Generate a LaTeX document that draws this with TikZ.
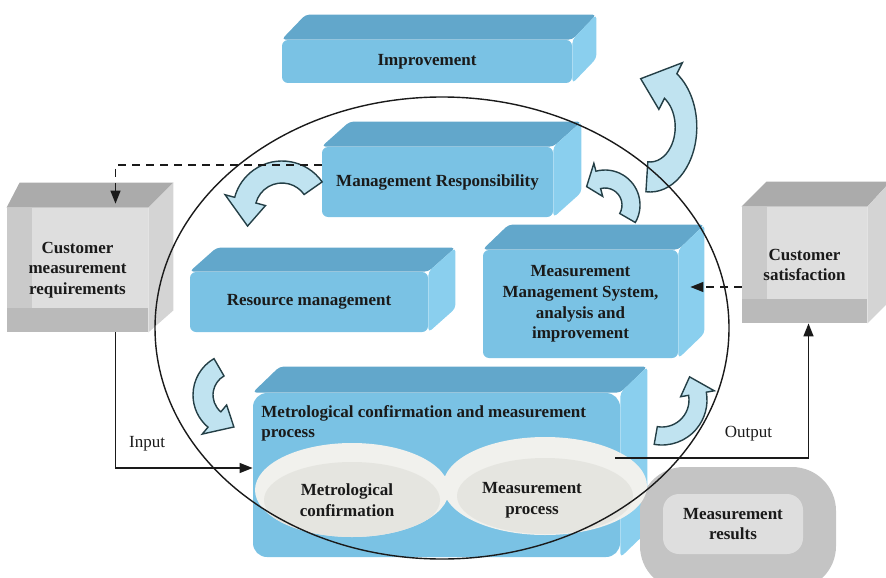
\documentclass[tikz,border=0pt]{standalone}
\usepackage{fontspec}
\setmainfont{Liberation Serif}
\usetikzlibrary{arrows.meta,calc,positioning,backgrounds,shapes.geometric}
\definecolor{ink}{HTML}{1A1A1A}
\definecolor{rimline}{HTML}{243F46}
\definecolor{blufront}{HTML}{7AC2E4}
\definecolor{blutop}{HTML}{62A7CB}
\definecolor{bluside}{HTML}{8ACFEE}
\definecolor{loopfill}{HTML}{C0E3F0}
\definecolor{grytop}{HTML}{ABABAB}
\definecolor{gryframe}{HTML}{CACACA}
\definecolor{gryinner}{HTML}{DEDEDE}
\definecolor{grybottom}{HTML}{BABABA}
\definecolor{gryside}{HTML}{D4D4D4}
\definecolor{lensrim}{HTML}{F1F1ED}
\definecolor{lenscore}{HTML}{E5E5E0}
\newcommand{\boxfont}{\fontsize{8.5}{10.3}\selectfont\bfseries}
% extruded faces behind a blue card
\newcommand{\bluedepth}[3]{%
  \begin{scope}[on background layer]
    \fill[blutop,rounded corners=2pt] (#1.north west) -- ++(#2,#3) -- ($(#1.north east)+(#2,#3)$) -- (#1.north east) -- cycle;
    \fill[bluside,rounded corners=2pt] (#1.north east) -- ++(#2,#3) -- ($(#1.south east)+(#2,#3)$) -- (#1.south east) -- cycle;
  \end{scope}}
% extruded faces behind a grey card
\newcommand{\greydepth}[5]{%
  \begin{scope}[on background layer]
    \fill[grytop] (#1.north west) -- ++(#2,#4) -- ($(#1.north east)+(#3,#4)$) -- (#1.north east) -- cycle;
    \fill[gryside] (#1.north east) -- ++(#3,#4) -- ($(#1.south east)+(#3,#5)$) -- (#1.south east) -- cycle;
  \end{scope}}
% curved block arrow: centre, radius, half width, tail angle, head angle, tip angle, xscale
\newcommand{\loopcarrow}[7]{%
  \pgfmathsetmacro{\lcro}{#2+#3}\pgfmathsetmacro{\lcri}{#2-#3}%
  \pgfmathsetmacro{\lchro}{#2+1.9*#3}\pgfmathsetmacro{\lchri}{#2-1.9*#3}%
  \begin{scope}[shift={(#1)},xscale=#7]
    \draw[looparr] (#4:\lcro) arc[start angle=#4,end angle=#5,radius=\lcro] -- (#5:\lchro) -- (#6:#2)
      -- (#5:\lchri) -- (#5:\lcri) arc[start angle=#5,end angle=#4,radius=\lcri] -- cycle;
  \end{scope}}
\tikzset{
  flowarr/.style={-{Triangle[length=6.5pt,width=5pt]},line width=0.7pt,color=ink},
  dasharr/.style={flowarr,dash pattern=on 4pt off 3pt},
  bluecard/.style={fill=blufront,rounded corners=3pt,align=center,inner sep=0pt,font=\boxfont,text=ink},
  greycard/.style={fill=gryframe,align=center,inner sep=0pt,font=\boxfont,text=ink,
    path picture={
      \fill[grybottom] (path picture bounding box.south west) rectangle ([yshift=12pt]path picture bounding box.south east);
      \fill[gryinner] ([xshift=12.5pt,yshift=12pt]path picture bounding box.south west) rectangle (path picture bounding box.north east);}},
  lens/.style={ellipse,fill=lensrim,inner sep=0pt,
    path picture={\fill[lenscore] ([yshift=-5pt]path picture bounding box.center) ellipse [x radius=44pt,y radius=19pt];}},
  lenstext/.style={align=center,inner sep=0pt,font=\boxfont,text=ink},
  looparr/.style={fill=loopfill,draw=rimline,line width=0.7pt},
  ringline/.style={draw=ink,line width=0.7pt},
  flowlabel/.style={font=\fontsize{8.5}{10}\selectfont,text=ink,inner sep=0pt}
}
\begin{document}
\begin{tikzpicture}[x=0.5pt,y=-0.5pt,>=Latex]
  \useasboundingbox (0,0) rectangle (886,577);
  % blue cards
  \node[bluecard,minimum width=145pt,minimum height=21.5pt] (impr) at (427,61.5) {Improvement};
  \bluedepth{impr}{24}{-25}
  \node[bluecard,minimum width=115.5pt,minimum height=35pt] (mgmt) at (437.5,182) {Management Responsibility};
  \bluedepth{mgmt}{28}{-25}
  \node[bluecard,minimum width=119pt,minimum height=30pt] (resmgmt) at (309,302) {Resource management};
  \bluedepth{resmgmt}{27}{-24}
  \node[bluecard,minimum width=97.5pt,minimum height=54pt] (mms) at (580.5,304)
    {Measurement\\Management System,\\analysis and\\improvement};
  \bluedepth{mms}{26}{-25}
  \node[bluecard,rounded corners=7pt,minimum width=183.5pt,minimum height=82pt] (metro) at (436.5,475) {};
  \bluedepth{metro}{27}{-26}
  \node[lenstext,anchor=north west,align=left] (metrotitle) at (261,405)
    {Metrological confirmation and measurement\\process};
  % the two lenses
  \node[lens,minimum width=97pt,minimum height=47pt] (mconf) at (352,490) {};
  \node[lenstext] (mconftext) at (347,500) {Metrological\\confirmation};
  \node[lens,minimum width=102pt,minimum height=49pt] (mproc) at (545,486) {};
  \node[lenstext] (mproctext) at (532,500) {Measurement\\process};
  % grey cards
  \node[greycard,minimum width=70.5pt,minimum height=62pt] (cmr) at (77.5,270)
    {Customer\\measurement\\requirements};
  \greydepth{cmr}{13}{25}{-25}{-22}
  \node[greycard,minimum width=62.5pt,minimum height=58pt] (csat) at (804.5,265) {Customer\\satisfaction};
  \greydepth{csat}{25}{23}{-25}{-23}
  \node[fill=gryinner,rounded corners=8pt,align=center,inner sep=0pt,font=\boxfont,text=ink,
    minimum width=70pt,minimum height=30pt] (mres) at (733,524) {Measurement\\results};
  \begin{scope}[on background layer]
    \fill[grybottom!85!white,rounded corners=22pt] (640,467) rectangle (836,590);
  \end{scope}
  % loop arrows
  \loopcarrow{650,127}{50}{15}{95}{-55}{-105}{0.72}
  \loopcarrow{282,210}{38}{11}{-35}{-165}{-205}{1}
  \loopcarrow{605,205}{26}{9}{30}{-105}{-135}{1}
  \loopcarrow{235,395}{32}{10}{-120}{-230}{-268}{1}
  \loopcarrow{662,400}{36}{9}{100}{-10}{-40}{1}
  \draw[ringline] (442,328) ellipse [x radius=287,y radius=231];
  % connectors
  \draw[dasharr] ([yshift=8.5pt]mgmt.west) -| ([xshift=19pt,yshift=2pt]cmr.north);
  \draw[dasharr] ([yshift=-11pt]csat.west) -- ([xshift=6pt,yshift=8.5pt]mms.east);
  \draw[flowarr] ([xshift=19pt]cmr.south) |- node[flowlabel,pos=0.615,above=8pt] {Input} ([yshift=3.5pt]metro.west);
  \draw[flowarr] ([xshift=35pt,yshift=14pt]mproc.center) -| node[flowlabel,pos=0.345,above=8pt] {Output} ([xshift=2pt]csat.south);
\end{tikzpicture}
\end{document}
